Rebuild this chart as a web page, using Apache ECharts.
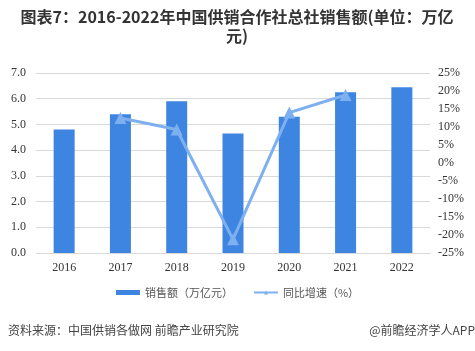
<!DOCTYPE html>
<html>
<head>
    <meta charset="utf-8" />
    <title>供销合作社总社销售额</title>
    <script src="https://cdn.jsdelivr.net/npm/echarts@6/dist/echarts.min.js"></script>
    <style>
        html, body { margin: 0; padding: 0; background: #fff; }
        #main { width: 475px; height: 351px; }
    </style>
</head>
<body>
    <div id="main"></div>
    <script type="text/javascript">
        // 数据
        var years = ['2016', '2017', '2018', '2019', '2020', '2021', '2022'];
        var sales = [4.8, 5.4, 5.9, 4.65, 5.3, 6.25, 6.45];        // 万亿元
        var growth = [null, 12.5, 9.3, -21.2, 14.0, 18.9, null];   // %

        var serif = '"Liberation Serif", "Times New Roman", serif';
        var sans = '"Noto Sans CJK SC", "Microsoft YaHei", sans-serif';

        var myChart = echarts.init(document.getElementById('main'));
        myChart.setOption({
            animation: false,
            title: {
                text: '图表7：2016-2022年中国供销合作社总社销售额(单位：万亿\n元)',
                left: 237,
                top: 7,
                textAlign: 'center',
                padding: 0,
                textStyle: {
                    fontFamily: sans,
                    fontSize: 16,
                    fontWeight: 'bold',
                    color: '#333',
                    lineHeight: 19
                }
            },
            legend: {
                bottom: 48,
                left: 'center',
                itemWidth: 24,
                itemHeight: 5,
                itemGap: 20,
                textStyle: { fontFamily: sans, fontSize: 11, color: '#555' },
                data: [
                    { name: '销售额（万亿元）', icon: 'rect' },
                    { name: '同比增速（%）' }
                ]
            },
            grid: { left: 36, right: 45, top: 73, bottom: 98 },
            xAxis: {
                type: 'category',
                data: years,
                axisLine: { lineStyle: { color: '#d9d9d9' } },
                axisTick: { show: false },
                axisLabel: { fontFamily: serif, fontSize: 12, color: '#333', margin: 9 }
            },
            yAxis: [
                {
                    type: 'value',
                    min: 0, max: 7, interval: 1,
                    axisLine: { show: false },
                    axisTick: { show: false },
                    splitLine: { lineStyle: { color: '#d9d9d9' } },
                    axisLabel: {
                        fontFamily: serif, fontSize: 12, color: '#333', margin: 10,
                        formatter: function (v) { return v.toFixed(1); }
                    }
                },
                {
                    type: 'value',
                    min: -25, max: 25, interval: 5,
                    axisLine: { show: false },
                    axisTick: { show: false },
                    splitLine: { show: false },
                    axisLabel: {
                        fontFamily: serif, fontSize: 12, color: '#333', margin: 8,
                        formatter: '{value}%'
                    }
                }
            ],
            series: [
                {
                    name: '销售额（万亿元）',
                    type: 'bar',
                    data: sales,
                    barWidth: 21,
                    itemStyle: { color: '#3d85e0' }
                },
                {
                    name: '同比增速（%）',
                    type: 'line',
                    yAxisIndex: 1,
                    data: growth,
                    symbol: 'triangle',
                    symbolSize: 12,
                    lineStyle: { color: '#7eb0f0', width: 3 },
                    itemStyle: { color: '#7eb0f0' }
                }
            ],
            graphic: [
                {
                    type: 'text', left: 8, top: 324,
                    style: { text: '资料来源：中国供销各做网 前瞻产业研究院', fontFamily: sans, fontSize: 12, fill: '#444' }
                },
                {
                    type: 'text', right: 0, top: 324,
                    style: { text: '@前瞻经济学人APP', fontFamily: sans, fontSize: 12, fill: '#444' }
                }
            ]
        });
    </script>
</body>
</html>
